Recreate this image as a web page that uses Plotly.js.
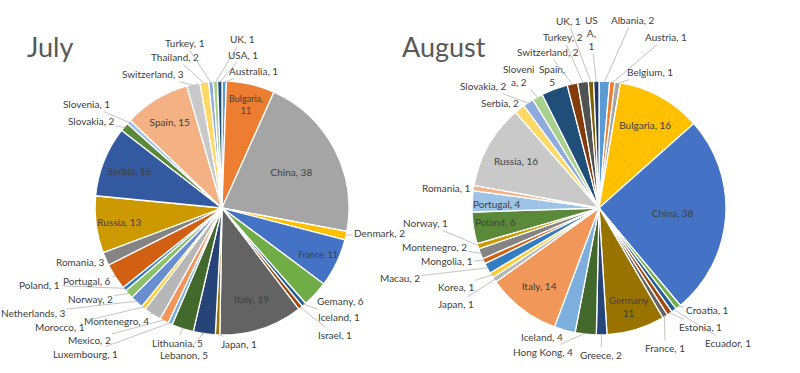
<!DOCTYPE html>
<html>
<head>
<meta charset="utf-8">
<script src="https://cdn.plot.ly/plotly-3.0.1.min.js"></script>
<style>
html,body{margin:0;padding:0;background:#fff;}
#chart{width:800px;height:373px;}
</style>
</head>
<body>
<div id="chart"></div>
<script>
// ---- July data (clockwise from 12 o'clock) ----
var julyCountries = ["Australia","Bulgaria","China","Denmark","France","Gemany","Iceland","Israel","Italy","Japan","Lebanon","Lithuania","Luxembourg","Mexico","Montenegro","Morocco","Netherlands","Norway","Poland","Portugal","Romania","Russia","Serbia","Slovakia","Slovenia","Spain","Switzerland","Thailand","Turkey","UK","USA"];
var julyValues = [1,11,38,2,11,6,1,1,19,1,5,5,1,2,4,1,3,2,1,6,3,13,16,2,1,15,3,2,1,1,1];

// ---- August data (clockwise from 12 o'clock) ----
var augustCountries = ["Albania","Austria","Belgium","Bulgaria","China","Croatia","Ecuador","Estonia","France","Germany","Greece","Hong Kong","Iceland","Italy","Japan","Korea","Macau","Mongolia","Montenegro","Norway","Poland","Portugal","Romania","Russia","Serbia","Slovakia","Slovenia","Spain","Switzerland","Turkey","UK","USA"];
var augustValues = [2,1,1,16,38,1,1,1,1,11,2,4,4,14,1,1,2,1,2,1,6,4,1,16,2,2,2,5,2,2,1,1];

var chartTitles = ["July","August"];

// ---- styles ----
var julyColors = ["#5B9BD5","#ED7D31","#A5A5A5","#FFC000","#4472C4","#70AD47",
  "#255E91","#9E480E","#636363","#997300","#264478","#43682B",
  "#7CAFDD","#F1975A","#B7B7B7","#FFCD33","#698ED0","#8CC168",
  "#327DC2","#D26012","#848484","#CC9A00","#335AA1","#5A8A39",
  "#9DC3E6","#F4B183","#C9C9C9","#FFD966","#8FAADC","#A9D18E","#1F4E79"];
var augustColors = ["#5B9BD5","#ED7D31","#A5A5A5","#FFC000","#4472C4","#70AD47",
  "#255E91","#9E480E","#636363","#997300","#264478","#43682B",
  "#7CAFDD","#F1975A","#B7B7B7","#FFCD33","#327DC2","#D26012",
  "#848484","#CC9A00","#5A8A39","#9DC3E6","#F4B183","#C9C9C9",
  "#FFD966","#8FAADC","#A9D18E","#1F4E79","#843C0C","#525252","#7F6000","#203864"];

// labels drawn inside by plotly
var julyInside = ["Bulgaria","China","France","Italy","Russia","Serbia","Spain"];
var augustInside = ["Bulgaria","China","Germany","Italy","Russia"];

// label placement (text centre, px) for callout labels; "free" = no leader line
var julyLabelPos = {
  "Turkey":[185,43],"UK":[242,39],"Thailand":[175,57],"USA":[243,55],
  "Switzerland":[153,74],"Australia":[253,71],"Slovenia":[86,104],"Slovakia":[91,121],
  "Romania":[80,262],"Portugal":[87,281],"Poland":[40,285],"Norway":[90,299],
  "Netherlands":[33,313],"Montenegro":[116,321],"Morocco":[60,327],"Mexico":[89,340],
  "Luxembourg":[85,354],"Lithuania":[177,343],"Lebanon":[184,355],"Japan":[239,344],
  "Israel":[335,335],"Iceland":[339,317],"Gemany":[340,301],"Denmark":[379,233]
};
var augustLabelPos = {
  "UK":[568,21],"USA":[591,33],"Albania":[632,20],"Turkey":[563,37],"Austria":[666,37],
  "Switzerland":[548,52],"Belgium":[650,72],"Slovenia":[519,75],"Spain":[552,76],
  "Slovakia":[483,86],"Serbia":[500,103],"Romania":[447,188],"Norway":[425,223],
  "Montenegro":[434,247],"Mongolia":[447,261],"Macau":[400,278],"Korea":[456,287],
  "Japan":[456,304],"Iceland":[542,337],"Hong Kong":[543,352],"Greece":[601,355],
  "France":[665,348],"Croatia":[707,310],"Estonia":[700,327],"Ecuador":[728,343],
  "Portugal":[497,204,"free"],"Poland":[495,222,"free"]
};
var julyLabelText = {};
var augustLabelText = {"USA":"US<br>A,<br>1","Slovenia":"Sloveni<br>a, 2","Spain":"Spain,<br>5"};

var W = 800, H = 373;
var julyDomain = {x:[0.11875,0.43625], y:[0.1019,0.7828]};
var augustDomain = {x:[0.59,0.9075], y:[0.1019,0.7828]};

var fontFam = "Lato, 'Open Sans', sans-serif";
var labelFont = {family:fontFam, size:10, color:"#404040"};

function positions(names, inside){
  return names.map(function(n){ return inside.indexOf(n) >= 0 ? "inside" : "none"; });
}

function pieTrace(names, values, colors, inside, domain, special){
  return {
    type:"pie", labels:names, values:values, sort:false,
    direction:"clockwise", rotation:0,
    marker:{colors:colors, line:{color:"#ffffff", width:1.3}},
    textposition:positions(names, inside),
    texttemplate:names.map(function(n){ return special[n] || "%{label}, %{value}"; }),
    insidetextorientation:"horizontal",
    textfont:labelFont, insidetextfont:labelFont, outsidetextfont:labelFont,
    domain:domain, hoverinfo:"label+value", showlegend:false
  };
}

// callout annotations: leader tip at the slice's outer edge, at the slice's mid angle
function callouts(names, values, domain, pos, texts){
  var total = values.reduce(function(a,b){return a+b;},0);
  var cx = W*(domain.x[0]+domain.x[1])/2;
  var cy = H*(1-(domain.y[0]+domain.y[1])/2);
  var r = Math.min(W*(domain.x[1]-domain.x[0]), H*(domain.y[1]-domain.y[0]))/2;
  var out = [], cum = 0;
  names.forEach(function(n,i){
    var v = values[i];
    var mid = (cum + v/2)/total*2*Math.PI;
    cum += v;
    var p = pos[n];
    if(!p) return;
    var txt = texts[n] || (n + ", " + v);
    if(p[2] === "free"){
      out.push({text:txt, xref:"paper", yref:"paper", x:p[0]/W, y:1-p[1]/H,
        showarrow:false, font:labelFont, xanchor:"center", yanchor:"middle"});
      return;
    }
    var tx = cx + r*0.99*Math.sin(mid), ty = cy - r*0.99*Math.cos(mid);
    out.push({text:txt, xref:"paper", yref:"paper", x:tx/W, y:1-ty/H,
      ax:p[0]-tx, ay:p[1]-ty, showarrow:true, arrowhead:0, arrowwidth:0.8,
      arrowcolor:"#b4b4b4", standoff:0, startstandoff:0, font:labelFont});
  });
  return out;
}

var july = pieTrace(julyCountries, julyValues, julyColors, julyInside, julyDomain, {"Bulgaria":"%{label},<br>%{value}"});
var august = pieTrace(augustCountries, augustValues, augustColors, augustInside, augustDomain, {"Germany":"%{label}<br>%{value}"});

var annotations = [
  {text:chartTitles[0], xref:"paper", yref:"paper", x:0.031, y:0.874, xanchor:"left", yanchor:"middle", showarrow:false,
   font:{family:fontFam, size:27, color:"#595959"}},
  {text:chartTitles[1], xref:"paper", yref:"paper", x:0.5, y:0.874, xanchor:"left", yanchor:"middle", showarrow:false,
   font:{family:fontFam, size:27, color:"#595959"}}
].concat(callouts(julyCountries, julyValues, julyDomain, julyLabelPos, julyLabelText))
 .concat(callouts(augustCountries, augustValues, augustDomain, augustLabelPos, augustLabelText));

var layout = {
  width:W, height:H,
  margin:{l:0,r:0,t:0,b:0},
  paper_bgcolor:"#ffffff", plot_bgcolor:"#ffffff",
  showlegend:false,
  annotations:annotations
};

Plotly.newPlot("chart", [july, august], layout, {displayModeBar:false, staticPlot:true});
</script>
</body>
</html>
